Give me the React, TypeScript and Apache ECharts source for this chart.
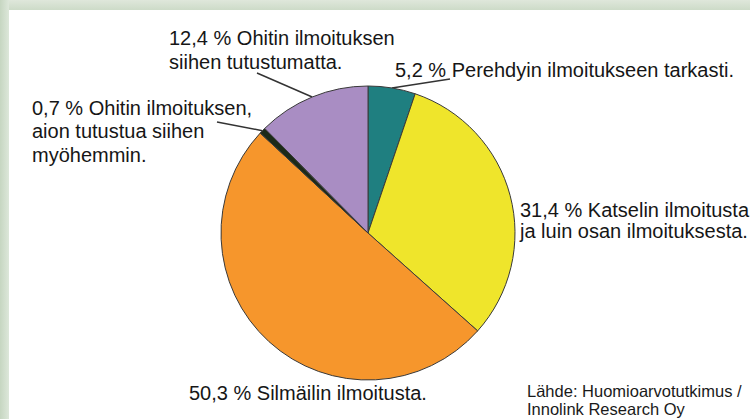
import React, { useEffect, useRef } from "react";
import * as echarts from "echarts";

// Data (clockwise from 12 o'clock)
const categories = [
  "Perehdyin ilmoitukseen tarkasti.",
  "Katselin ilmoitusta\nja luin osan ilmoituksesta.",
  "Silmäilin ilmoitusta.",
  "Ohitin ilmoituksen,\naion tutustua siihen\nmyöhemmin.",
  "Ohitin ilmoituksen\nsiihen tutustumatta.",
];
const values = [5.2, 31.4, 50.3, 0.7, 12.4];
const colors = ["#1f7f80", "#efe52b", "#f6962c", "#1c2a18", "#a98dc3"];
const sourceLines = ["Lähde: Huomioarvotutkimus /", "Innolink Research Oy"];

// Label layout (positions only)
const labelPos = [
  { x: 395, y: 59, lh: 22, end: [450, 79] },
  { x: 520, y: 199, lh: 21, end: null },
  { x: 189, y: 382, lh: 22, end: null },
  { x: 32, y: 96, lh: 23.5, end: [217, 122] },
  { x: 169, y: 26, lh: 24, end: [257, 73] },
];

const fmt = (v: number) => v.toFixed(1).replace(".", ",");

export default function App() {
  const ref = useRef<HTMLDivElement>(null);
  useEffect(() => {
    if (!ref.current) return;
    const chart = echarts.init(ref.current, null, { renderer: "svg" });
    const font = "'Liberation Sans', Arial, sans-serif";
    chart.setOption({
      animation: false,
      backgroundColor: "#ffffff",
      graphic: [
        {
          type: "rect",
          shape: { x: 0, y: 0, width: 750, height: 10 },
          style: {
            fill: new echarts.graphic.LinearGradient(0, 0, 0, 1, [
              { offset: 0, color: "#dfe7db" },
              { offset: 1, color: "#cddbc8" },
            ]),
          },
          silent: true,
        },
        {
          type: "rect",
          shape: { x: 0, y: 0, width: 9, height: 419 },
          style: {
            fill: new echarts.graphic.LinearGradient(0, 0, 1, 0, [
              { offset: 0, color: "#c6d6c1" },
              { offset: 1, color: "#dde7da" },
            ]),
          },
          silent: true,
        },
        {
          type: "text",
          left: 527,
          top: 382,
          style: {
            text: sourceLines.join("\n"),
            font: `16.5px ${font}`,
            fill: "#1a1a1a",
            lineHeight: 18,
          },
          silent: true,
        },
      ],
      series: [
        {
          type: "pie",
          center: [368, 233],
          radius: 147,
          startAngle: 90,
          clockwise: true,
          silent: true,
          avoidLabelOverlap: false,
          itemStyle: { borderColor: "#3a3a3a", borderWidth: 1 },
          label: {
            show: true,
            position: "outside",
            fontFamily: font,
            fontSize: 20,
            color: "#161616",
            formatter: (p: any) => `${fmt(p.value)} % ${p.name}`,
          },
          labelLine: {
            show: true,
            lineStyle: { color: "#333", width: 1.5 },
          },
          labelLayout: (params: any) => {
            const lp = labelPos[params.dataIndex];
            const res: any = {
              x: lp.x,
              y: lp.y,
              align: "left",
              verticalAlign: "top",
            };
            if (lp.end && params.labelLinePoints) {
              const s = params.labelLinePoints[0];
              res.labelLinePoints = [s, lp.end, lp.end];
            }
            return res;
          },
          data: values.map((v, i) => ({
            value: v,
            name: categories[i],
            itemStyle: { color: colors[i] },
            label: { lineHeight: labelPos[i].lh },
            labelLine: { show: !!labelPos[i].end },
          })),
        },
      ],
    });
    return () => chart.dispose();
  }, []);
  return (
    <div
      ref={ref}
      style={{ position: "fixed", left: 0, top: 0, width: 750, height: 419 }}
    />
  );
}
